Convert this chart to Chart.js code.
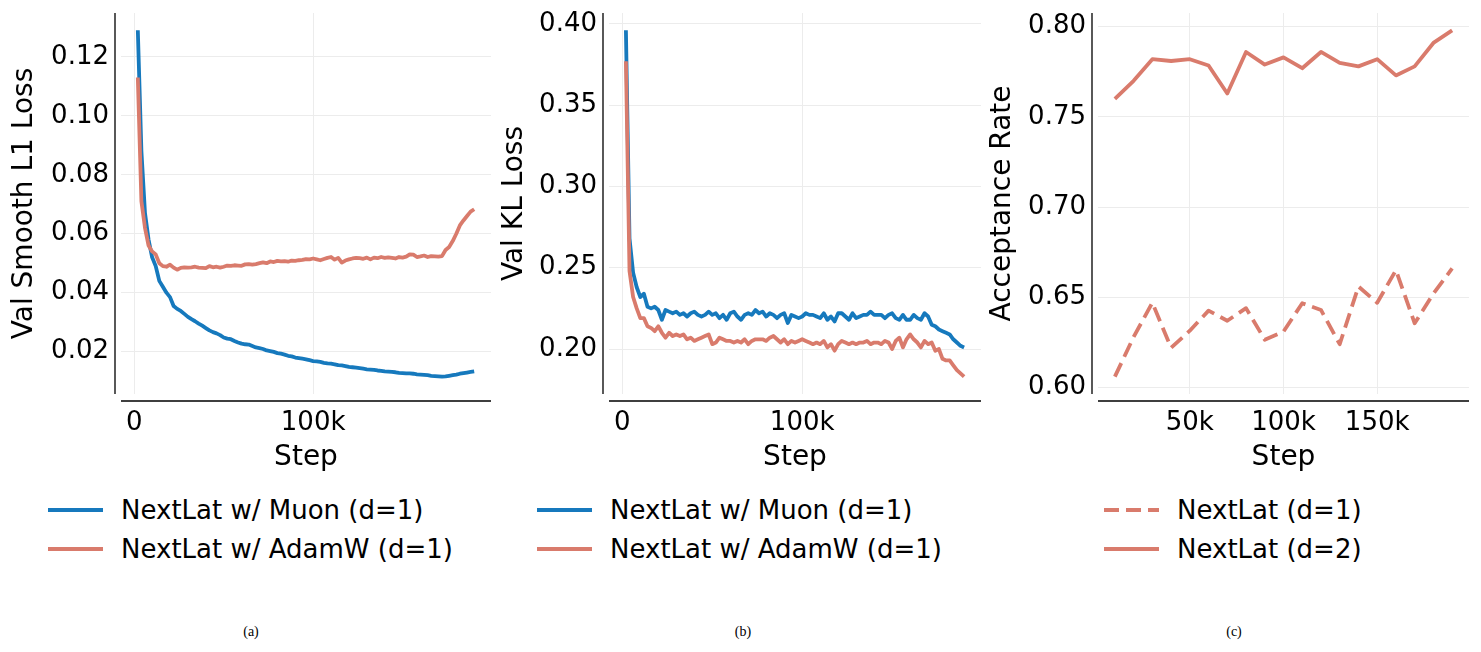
<!DOCTYPE html>
<html>
<head>
<meta charset="utf-8">
<script src="https://cdn.jsdelivr.net/npm/chart.js@4.4.1/dist/chart.umd.min.js"></script>
<style>
  body { margin: 0; background: #fff; width: 1481px; height: 652px; position: relative; overflow: hidden; font-family: "DejaVu Sans"; }
  canvas { position: absolute; top: 0; }
  .leg { position: absolute; font-size: 26px; line-height: 30px; white-space: nowrap; color: #000; }
  .cap { position: absolute; top: 624px; font-family: "Liberation Serif"; font-size: 14px; transform: translateX(-50%); }
</style>
</head>
<body>
<canvas id="chartA" width="495" height="480" style="left:0px"></canvas>
<canvas id="chartB" width="495" height="480" style="left:490px"></canvas>
<canvas id="chartC" width="495" height="480" style="left:978px"></canvas>
<div id="legends"></div>
<div class="cap" style="left:251px">(a)</div>
<div class="cap" style="left:743px">(b)</div>
<div class="cap" style="left:1234px">(c)</div>
<script>
// steps in thousands
const stepsAB = [2, 4, 6, 8, 10, 12, 14, 16, 18, 20, 22, 24, 26, 28, 30, 32, 34, 36, 38, 40,
  42, 44, 46, 48, 50, 52, 54, 56, 58, 60, 62, 64, 66, 68, 70, 72, 74, 76, 78, 80,
  82, 84, 86, 88, 90, 92, 94, 96, 98, 100, 102, 104, 106, 108, 110, 112, 114, 116, 118, 120,
  122, 124, 126, 128, 130, 132, 134, 136, 138, 140, 142, 144, 146, 148, 150, 152, 154, 156, 158, 160,
  162, 164, 166, 168, 170, 172, 174, 176, 178, 180, 182, 184, 186, 188, 190];

const muonSmoothL1 = [
  0.129, 0.088, 0.067, 0.058, 0.052, 0.049, 0.044, 0.042, 0.040, 0.0385,
  0.0355, 0.0345, 0.0338, 0.0328, 0.0318, 0.0310, 0.0303, 0.0295, 0.0288, 0.0280,
  0.0272, 0.0266, 0.0262, 0.0256, 0.0248, 0.0244, 0.0242, 0.0236, 0.0231, 0.0227,
  0.0225, 0.0224, 0.0219, 0.0214, 0.0212, 0.0209, 0.0204, 0.0202, 0.0199, 0.0195,
  0.0193, 0.0190, 0.0186, 0.0184, 0.0180, 0.0178, 0.0176, 0.0174, 0.0171, 0.0168,
  0.0167, 0.0165, 0.0162, 0.0160, 0.0159, 0.0157, 0.0154, 0.0153, 0.0151, 0.0148,
  0.0147, 0.0146, 0.0144, 0.0142, 0.0140, 0.0139, 0.0138, 0.0136, 0.0135, 0.0133,
  0.0132, 0.0131, 0.0130, 0.0128, 0.0127, 0.0126, 0.0126, 0.0125, 0.0123, 0.0122,
  0.0121, 0.0120, 0.0118, 0.0117, 0.0116, 0.0115, 0.0116, 0.0118, 0.0120, 0.0122,
  0.0125, 0.0127, 0.0129, 0.0131, 0.0133];

const adamwSmoothL1 = [
  0.113, 0.071, 0.062, 0.056, 0.054, 0.053, 0.050, 0.049, 0.0488, 0.0495,
  0.0485, 0.0478, 0.0484, 0.0486, 0.0485, 0.0486, 0.0488, 0.0485, 0.0484, 0.0483,
  0.0490, 0.0486, 0.0488, 0.0485, 0.0488, 0.0492, 0.0491, 0.0493, 0.0492, 0.0491,
  0.0496, 0.0497, 0.0495, 0.0497, 0.0500, 0.0503, 0.0500, 0.0506, 0.0504, 0.0508,
  0.0506, 0.0507, 0.0505, 0.0509, 0.0508, 0.0510, 0.0511, 0.0514, 0.0513, 0.0516,
  0.0513, 0.0510, 0.0514, 0.0518, 0.0521, 0.0512, 0.0518, 0.0502, 0.0509, 0.0513,
  0.0516, 0.0518, 0.0517, 0.0515, 0.0519, 0.0513, 0.0519, 0.0517, 0.0521, 0.0518,
  0.0520, 0.0518, 0.0516, 0.0521, 0.0519, 0.0522, 0.0530, 0.0529, 0.0521, 0.0523,
  0.0526, 0.0521, 0.0524, 0.0523, 0.0522, 0.0524, 0.0545, 0.0555, 0.0575, 0.0600,
  0.0628, 0.0645, 0.0660, 0.0675, 0.0683];

const muonKL = [
  0.396, 0.268, 0.247, 0.238, 0.232, 0.234, 0.226, 0.225, 0.226, 0.224,
  0.218, 0.224, 0.223, 0.222, 0.223, 0.221, 0.222, 0.220, 0.222, 0.223,
  0.221, 0.220, 0.221, 0.223, 0.221, 0.222, 0.219, 0.221, 0.218, 0.222,
  0.223, 0.220, 0.218, 0.221, 0.222, 0.221, 0.224, 0.222, 0.223, 0.220,
  0.222, 0.221, 0.219, 0.221, 0.222, 0.216, 0.221, 0.220, 0.219, 0.220,
  0.222, 0.221, 0.221, 0.220, 0.219, 0.222, 0.218, 0.220, 0.217, 0.222,
  0.222, 0.220, 0.218, 0.222, 0.219, 0.220, 0.221, 0.221, 0.223, 0.221,
  0.221, 0.221, 0.219, 0.221, 0.222, 0.219, 0.218, 0.221, 0.218, 0.218,
  0.221, 0.219, 0.218, 0.222, 0.220, 0.215, 0.214, 0.212, 0.211, 0.210,
  0.209, 0.206, 0.204, 0.202, 0.201];

const adamwKL = [
  0.377, 0.248, 0.232, 0.225, 0.219, 0.219, 0.214, 0.213, 0.211, 0.214,
  0.210, 0.207, 0.210, 0.208, 0.209, 0.208, 0.209, 0.206, 0.207, 0.205,
  0.206, 0.207, 0.208, 0.209, 0.203, 0.204, 0.207, 0.206, 0.205, 0.205,
  0.204, 0.205, 0.204, 0.206, 0.203, 0.205, 0.206, 0.206, 0.206, 0.205,
  0.207, 0.208, 0.206, 0.204, 0.206, 0.203, 0.205, 0.204, 0.205, 0.206,
  0.205, 0.204, 0.203, 0.204, 0.203, 0.205, 0.201, 0.203, 0.199, 0.203,
  0.205, 0.204, 0.203, 0.204, 0.203, 0.204, 0.204, 0.205, 0.203, 0.204,
  0.204, 0.203, 0.205, 0.204, 0.200, 0.205, 0.207, 0.201, 0.206, 0.209,
  0.206, 0.204, 0.201, 0.205, 0.203, 0.204, 0.199, 0.200, 0.194, 0.193,
  0.193, 0.190, 0.187, 0.185, 0.183];

const stepsC = [10, 20, 30, 40, 50, 60, 70, 80, 90, 100, 110, 120, 130, 140, 150, 160, 170, 180, 190];
const acceptD1 = [0.606, 0.628, 0.647, 0.622, 0.6315, 0.6426, 0.637, 0.644, 0.6265, 0.631,
  0.6467, 0.643, 0.624, 0.656, 0.647, 0.665, 0.6356, 0.652, 0.666];
const acceptD2 = [0.760, 0.770, 0.782, 0.781, 0.782, 0.7785, 0.763, 0.786, 0.779, 0.783,
  0.777, 0.786, 0.780, 0.778, 0.782, 0.773, 0.778, 0.791, 0.798];

const xTicksAB = [0, 100];
const xTicksC = [50, 100, 150];
const yTicksA = [0.02, 0.04, 0.06, 0.08, 0.10, 0.12];
const yTicksB = [0.20, 0.25, 0.30, 0.35, 0.40];
const yTicksC = [0.60, 0.65, 0.70, 0.75, 0.80];

const BLUE = "#1679bd";
const SALMON = "#d97b6c";
const DASH = [15, 7];
const FONT = "DejaVu Sans";

// matplotlib style spines, pulled away from the plot area
const offsetSpines = {
  id: "offsetSpines",
  afterDraw(chart) {
    const { ctx, chartArea: a } = chart;
    ctx.save();
    ctx.strokeStyle = "#000";
    ctx.lineWidth = 1.3;
    ctx.beginPath();
    ctx.moveTo(a.left - 6, a.top);
    ctx.lineTo(a.left - 6, a.bottom);
    ctx.moveTo(a.left, a.bottom + 7);
    ctx.lineTo(a.right, a.bottom + 7);
    ctx.stroke();
    ctx.restore();
  },
};

function pts(xs, ys) {
  return xs.map((x, i) => ({ x: x, y: ys[i] }));
}

function limits(values) {
  const lo = Math.min(...values), hi = Math.max(...values);
  const m = (hi - lo) * 0.05;
  return [lo - m, hi + m];
}

function line(label, xs, ys, color, dash, order) {
  return {
    label: label,
    data: pts(xs, ys),
    borderColor: color,
    borderWidth: 3.8,
    borderDash: dash || [],
    borderJoinStyle: "round",
    pointRadius: 0,
    tension: 0,
    order: order,
  };
}

function makeChart(id, datasets, xs, ys, xTicks, yTicks, yTitle, yWidth) {
  const [xMin, xMax] = limits(xs);
  const [yMin, yMax] = limits(ys);
  return new Chart(document.getElementById(id), {
    type: "line",
    data: { datasets: datasets },
    plugins: [offsetSpines],
    options: {
      responsive: false,
      animation: false,
      layout: { padding: { top: 13, right: 4, left: 0, bottom: 0 } },
      plugins: { legend: { display: false }, tooltip: { enabled: false } },
      scales: {
        x: {
          type: "linear",
          min: xMin,
          max: xMax,
          afterBuildTicks: (s) => { s.ticks = xTicks.map((v) => ({ value: v })); },
          afterFit: (s) => { s.height = 86; },
          grid: { color: "#ececec", lineWidth: 1, drawTicks: false },
          border: { display: false },
          ticks: {
            padding: 14,
            color: "#000",
            font: { family: FONT, size: 26, lineHeight: 1.2 },
            callback: (v) => (v === 0 ? "0" : v + "k"),
            maxRotation: 0,
          },
          title: {
            display: true,
            text: "Step",
            color: "#000",
            font: { family: FONT, size: 28, lineHeight: 1.2 },
            padding: { top: 0, bottom: 5 },
          },
        },
        y: {
          min: yMin,
          max: yMax,
          afterBuildTicks: (s) => { s.ticks = yTicks.map((v) => ({ value: v })); },
          afterFit: (s) => { s.width = yWidth; },
          grid: { color: "#ececec", lineWidth: 1, drawTicks: false },
          border: { display: false },
          ticks: {
            padding: 12,
            color: "#000",
            // tiny line height keeps Chart.js from reserving room above the top tick
            font: { family: FONT, size: 26, lineHeight: 0.02 },
            callback: (v) => v.toFixed(2),
          },
          title: {
            display: true,
            text: yTitle,
            color: "#000",
            font: { family: FONT, size: 28, lineHeight: 1.2 },
            padding: { top: 8, bottom: 0 },
          },
        },
      },
    },
  });
}

makeChart("chartA",
  [line("NextLat w/ Muon (d=1)", stepsAB, muonSmoothL1, BLUE, null, 1),
   line("NextLat w/ AdamW (d=1)", stepsAB, adamwSmoothL1, SALMON, null, 0)],
  stepsAB, muonSmoothL1.concat(adamwSmoothL1), xTicksAB, yTicksA, "Val Smooth L1 Loss", 121);

makeChart("chartB",
  [line("NextLat w/ Muon (d=1)", stepsAB, muonKL, BLUE, null, 1),
   line("NextLat w/ AdamW (d=1)", stepsAB, adamwKL, SALMON, null, 0)],
  stepsAB, muonKL.concat(adamwKL), xTicksAB, yTicksB, "Val KL Loss", 119);

makeChart("chartC",
  [line("NextLat (d=1)", stepsC, acceptD1, SALMON, DASH, 0),
   line("NextLat (d=2)", stepsC, acceptD2, SALMON, null, 1)],
  stepsC, acceptD1.concat(acceptD2), xTicksC, yTicksC, "Acceptance Rate", 120);

// legends under each panel
const legendItems = [
  { x: 48, label: "NextLat w/ Muon (d=1)", color: BLUE, dash: null, row: 0 },
  { x: 48, label: "NextLat w/ AdamW (d=1)", color: SALMON, dash: null, row: 1 },
  { x: 537, label: "NextLat w/ Muon (d=1)", color: BLUE, dash: null, row: 0 },
  { x: 537, label: "NextLat w/ AdamW (d=1)", color: SALMON, dash: null, row: 1 },
  { x: 1104, label: "NextLat (d=1)", color: SALMON, dash: DASH, row: 0 },
  { x: 1104, label: "NextLat (d=2)", color: SALMON, dash: null, row: 1 },
];
const rowY = [510, 549];
const box = document.getElementById("legends");
legendItems.forEach((it) => {
  const y = rowY[it.row];
  const sw = document.createElementNS("http://www.w3.org/2000/svg", "svg");
  sw.setAttribute("width", "56");
  sw.setAttribute("height", "8");
  sw.style.position = "absolute";
  sw.style.left = it.x + "px";
  sw.style.top = (y - 4) + "px";
  const l = document.createElementNS("http://www.w3.org/2000/svg", "line");
  l.setAttribute("x1", "0"); l.setAttribute("y1", "4");
  l.setAttribute("x2", "55"); l.setAttribute("y2", "4");
  l.setAttribute("stroke", it.color);
  l.setAttribute("stroke-width", "4");
  if (it.dash) l.setAttribute("stroke-dasharray", it.dash.join(" "));
  sw.appendChild(l);
  box.appendChild(sw);
  const t = document.createElement("div");
  t.className = "leg";
  t.textContent = it.label;
  t.style.left = (it.x + 73) + "px";
  t.style.top = (y - 15) + "px";
  box.appendChild(t);
});
</script>
</body>
</html>
